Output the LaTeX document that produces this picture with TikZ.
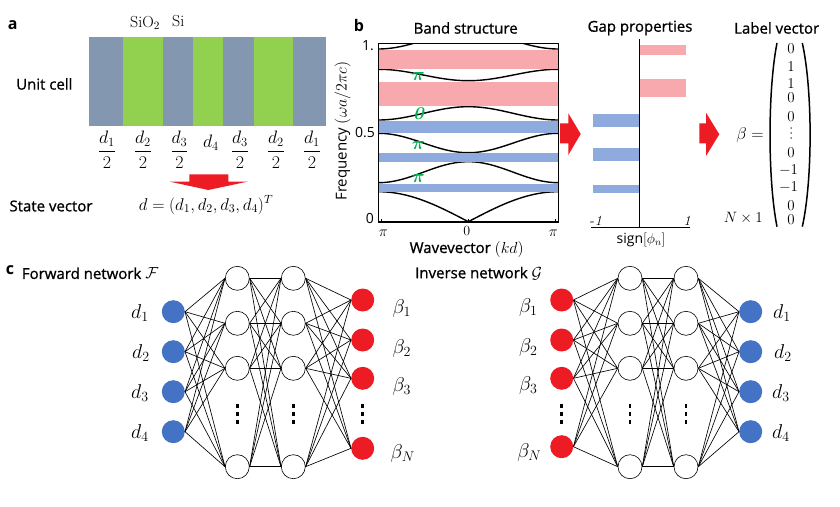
\RequirePackage{fix-cm}
\documentclass[tikz,border=0pt]{standalone}
\usepackage{amsmath,amssymb}
\usepackage[no-math]{fontspec}
\setsansfont{Open Sans}
\newfontfamily\semib{Open Sans}[FakeBold=1]
\definecolor{cellblue}{HTML}{8497B0}
\definecolor{cellgreen}{HTML}{92D050}
\definecolor{gappink}{HTML}{F7A9AD}
\definecolor{gapblue}{HTML}{8FAADC}
\definecolor{arrred}{HTML}{ED1C24}
\definecolor{nodeblue}{HTML}{4472C4}
\definecolor{nodered}{HTML}{ED1C24}
\definecolor{topgreen}{HTML}{00B050}
\tikzset{
  title/.style={font=\semib\fontsize{15}{18}\selectfont, inner sep=0},
  panel/.style={font=\sffamily\bfseries\fontsize{16}{19}\selectfont, inner sep=0},
  tick/.style={font=\sffamily\fontsize{14}{17}\selectfont, inner sep=0},
  mth/.style={font=\fontsize{18}{21}\selectfont, inner sep=0},
  vec/.style={font=\fontsize{15}{18}\selectfont, inner sep=0},
  nlab/.style={font=\fontsize{20}{24}\selectfont, inner sep=0, anchor=base},
  glab/.style={font=\fontsize{18}{21}\selectfont, text=topgreen, inner sep=0},
  inb/.style={circle, fill=nodeblue, minimum size=23pt, inner sep=0},
  inr/.style={circle, fill=nodered, minimum size=23pt, inner sep=0},
  hid/.style={circle, draw=black, line width=0.6pt, fill=white, minimum size=24pt, inner sep=0},
  edge/.style={line width=0.65pt},
  hedge/.style={line width=1.3pt},
  bigarrow/.style={fill=arrred},
}
\begin{document}
\begin{tikzpicture}[x=1pt,y=-1pt]
\useasboundingbox (0,0) rectangle (840,506);
% ---------------- panel a
\node[panel] (la) at (12.7,25) {a};
\fill[cellblue]  (89,37) rectangle (123,126);
\fill[cellgreen] (123,37) rectangle (163,126);
\fill[cellblue]  (163,37) rectangle (193,126);
\fill[cellgreen] (193,37) rectangle (223,126);
\fill[cellblue]  (223,37) rectangle (254,126);
\fill[cellgreen] (254,37) rectangle (293,126);
\fill[cellblue]  (293,37) rectangle (326,126);
\node[font=\fontsize{16}{19}\selectfont, inner sep=0] (sio) at (145,22.7) {SiO$_2$};
\node[font=\fontsize{16}{19}\selectfont, inner sep=0] (si) at (178.3,21.5) {Si};
\node[title, anchor=west] (uc) at (16,84) {Unit cell};
\node[mth] (f1) at (107,150) {$\dfrac{d_1}{2}$};
\node[mth] (f2) at (143,150) {$\dfrac{d_2}{2}$};
\node[mth] (f3) at (179.5,150) {$\dfrac{d_3}{2}$};
\node[mth] (f4) at (211,143) {$d_4$};
\node[mth] (f5) at (240,150) {$\dfrac{d_3}{2}$};
\node[mth] (f6) at (276,150) {$\dfrac{d_2}{2}$};
\node[mth] (f7) at (312,150) {$\dfrac{d_1}{2}$};
\fill[bigarrow] (189.3,174.3) -- (228.3,174.3) -- (228.3,181.7) -- (247.3,181.7)
  -- (208.3,190) -- (170,181.7) -- (189.3,181.7) -- cycle;
\node[title, anchor=west] (sv) at (9.3,206) {State vector};
\node[font=\fontsize{17}{20}\selectfont, inner sep=0] (dv) at (206,205) {$d=(d_1,d_2,d_3,d_4)^T$};
% ---------------- panel b: band structure
\node[panel] (lb) at (359,25) {b};
\node[title] (bs) at (465.7,28) {Band structure};
\begin{scope}
\clip (378.3,43.3) rectangle (558.3,221.7);
\draw[line width=1.4pt] plot[domain=-1:1, samples=81] ({468.3+90*\x},{221.7-30*sin(90*abs(\x))});
\draw[line width=1.4pt] plot[domain=-1:1, samples=81] ({468.3+90*\x},{182.7-21*(1+cos(180*\x))/2});
\draw[line width=1.4pt] plot[domain=-1:1, samples=81] ({468.3+90*\x},{133.3+19.4*(1+cos(180*\x))/2});
\draw[line width=1.4pt] plot[domain=-1:1, samples=81] ({468.3+90*\x},{120-13.3*(1+cos(180*\x))/2});
\draw[line width=1.4pt] plot[domain=-1:1, samples=81] ({468.3+90*\x},{69.3+11.4*(1+cos(180*\x))/2});
\draw[line width=1.4pt] plot[domain=-1:1, samples=81] ({468.3+90*\x},{49-17*(1+cos(180*\x))/2});
\end{scope}
\fill[gappink] (379.3,50) rectangle (558.3,69);
\fill[gappink] (379.3,82) rectangle (558.3,106);
\fill[gapblue] (379.3,121) rectangle (558.3,133.3);
\fill[gapblue] (379.3,153.3) rectangle (558.3,161.7);
\fill[gapblue] (379.3,183.5) rectangle (558.3,192);
\draw[line width=1.6pt] (378.3,43.3) rectangle (558.3,221.7);
\draw[line width=1pt] (468.3,221.7) -- (468.3,218.5);
\draw[line width=1pt] (381.5,221.7) -- (381.5,218.5);
\draw[line width=1pt] (555,221.7) -- (555,218.5);
\node[glab] (g1) at (418.3,76) {$\boldsymbol{\pi}$};
\node[glab] (g2) at (419.5,114) {$\boldsymbol{\mathit{0}}$};
\node[glab] (g3) at (418.3,145) {$\boldsymbol{\pi}$};
\node[glab] (g4) at (418.3,178) {$\boldsymbol{\pi}$};
\node[tick, anchor=east] (y1) at (374,46) {1.};
\node[tick, anchor=east] (y2) at (375,132.7) {0.5};
\node[tick, anchor=east] (y3) at (374,218.5) {0};
\node[font=\fontsize{15}{18}\selectfont, inner sep=0] (x1) at (383.3,233.5) {$\pi$};
\node[font=\fontsize{14}{17}\selectfont, inner sep=0] (x2) at (466.7,230.5) {$0$};
\node[font=\fontsize{15}{18}\selectfont, inner sep=0] (x3) at (553.3,233.5) {$\pi$};
\node[font=\semib\fontsize{15}{18}\selectfont, inner sep=0] (wv) at (466.7,249) {Wavevector \normalfont\fontsize{16}{18}\selectfont$(kd)$};
\node[font=\sffamily\fontsize{15}{18}\selectfont, inner sep=0, rotate=90] (fq) at (342.7,131) {Frequency \fontsize{16}{18}\selectfont$(\omega a/2\pi c)$};
\fill[bigarrow] (560,123.3) -- (568.3,123.3) -- (568.3,113.3) -- (580.7,134) -- (568.3,155) -- (568.3,143.3) -- (560,143.3) -- cycle;
% ---------------- gap properties
\node[title] (gp) at (640,28) {Gap properties};
\fill[gappink] (640,45) rectangle (686,55);
\fill[gappink] (640,79.3) rectangle (686,97);
\fill[gapblue] (593,114) rectangle (640,127);
\fill[gapblue] (593,148) rectangle (640,160.7);
\fill[gapblue] (593,185) rectangle (640,193);
\draw[line width=1.4pt] (639.7,39.3) -- (639.7,227);
\draw[line width=1pt] (591,227) -- (690,227);
\node[font=\fontsize{14}{16}\selectfont, inner sep=0, anchor=base] (m1) at (596,225) {-\textit{1}};
\node[font=\fontsize{14}{16}\selectfont, inner sep=0, anchor=base] (p1) at (687,225) {\textit{1}};
\node[font=\sffamily\fontsize{14}{17}\selectfont, inner sep=0] (sg) at (641,240) {sign$[\phi_n]$};
\fill[bigarrow] (699.3,123.3) -- (706,123.3) -- (706,112.7) -- (719.3,134.3) -- (706,156) -- (706,143.3) -- (699.3,143.3) -- cycle;
% ---------------- label vector
\node[title] (lv) at (776.7,28) {Label vector};
\draw[line width=1.5pt] (777,43) .. controls (767.7,90) and (767.7,180) .. (777,226.7);
\draw[line width=1.5pt] (802.3,43) .. controls (812.7,90) and (812.7,180) .. (802.3,226.7);
\foreach \v/\yy [count=\i] in {0/48.3, 1/66.7, 1/84, 0/97.8, 0/116.7, 0/152.7, 0/206, 0/219.5}
  \node[vec] (e\i) at (791,\yy) {$\v$};
\foreach \yy in {128,133,138} \fill (791,\yy) circle (0.75);
\node[vec] (em1) at (788.5,170) {$-1$};
\node[vec] (em2) at (788.5,187.3) {$-1$};
\node[font=\fontsize{17}{20}\selectfont, inner sep=0] (beq) at (750,135) {$\beta=$};
\node[font=\fontsize{15}{18}\selectfont, inner sep=0] (nx1) at (743.3,218.3) {$N\times 1$};
% ---------------- panel c
\node[panel] (lc) at (10,270) {c};
\node[title, anchor=west] (fw) at (21.7,273.3) {Forward network \normalfont\fontsize{16}{19}\selectfont$\mathcal{F}$};
\node[title, anchor=west] (iv) at (415,273.3) {Inverse network \normalfont\fontsize{16}{19}\selectfont$\mathcal{G}$};
% forward network nodes
\foreach \y [count=\i] in {311.7,351.7,391.7,431.7} \node[inb] (Li\i) at (173.3,\y) {};
\foreach \y [count=\i] in {278.3,323.3,368.3,466.7} {
  \node[hid] (La\i) at (237.3,\y) {};
  \node[hid] (Lb\i) at (293.3,\y) {};
}
\foreach \y [count=\i] in {300,340,378.3,448.3} \node[inr] (Lo\i) at (362.7,\y) {};
\foreach \i in {1,...,4} \foreach \j in {1,...,4} {
  \draw[edge] (Li\i.east) -- (La\j.west);
  \draw[edge] (Lb\i.east) -- (Lo\j.west);
}
\foreach \i in {1,...,4} \foreach \j in {1,...,4} {
  \ifnum\i=\j \draw[hedge] (La\i.east) -- (Lb\j.west);
  \else \draw[edge] (La\i.east) -- (Lb\j.west); \fi
}
% inverse network nodes
\foreach \y [count=\i] in {300,340,378.3,446.7} \node[inr] (Ri\i) at (561.7,\y) {};
\foreach \y [count=\i] in {278.3,323.3,368.3,466.7} {
  \node[hid] (Ra\i) at (630,\y) {};
  \node[hid] (Rb\i) at (686,\y) {};
}
\foreach \y [count=\i] in {311.7,351.7,391.7,431.7} \node[inb] (Ro\i) at (750.7,\y) {};
\foreach \i in {1,...,4} \foreach \j in {1,...,4} {
  \draw[edge] (Ri\i.east) -- (Ra\j.west);
  \draw[edge] (Rb\i.east) -- (Ro\j.west);
}
\foreach \i in {1,...,4} \foreach \j in {1,...,4} {
  \ifnum\i=\j \draw[hedge] (Ra\i.east) -- (Rb\j.west);
  \else \draw[edge] (Ra\i.east) -- (Rb\j.west); \fi
}
% vertical dots
\foreach \x in {237.3,293.3,362.7,561.7,630,686}
  \foreach \yy in {406,414,422} \fill (\x-1.4,\yy-1.6) rectangle (\x+1.4,\yy+1.6);
% labels
\node[nlab] (dl1) at (140,318.7) {$d_1$};
\node[nlab] (dl2) at (141,358.7) {$d_2$};
\node[nlab] (dl3) at (140,398.7) {$d_3$};
\node[nlab] (dl4) at (140,438.7) {$d_4$};
\node[nlab] (bl1) at (401.7,313) {$\beta_1$};
\node[nlab] (bl2) at (401.7,353) {$\beta_2$};
\node[nlab] (bl3) at (401.7,391.3) {$\beta_3$};
\node[nlab] (blN) at (402.7,458) {$\beta_N$};
\node[nlab] (br1) at (528.3,312) {$\beta_1$};
\node[nlab] (br2) at (528.3,352) {$\beta_2$};
\node[nlab] (br3) at (528.3,390.3) {$\beta_3$};
\node[nlab] (brN) at (529.3,457) {$\beta_N$};
\node[nlab] (dr1) at (782,318.7) {$d_1$};
\node[nlab] (dr2) at (783,358.7) {$d_2$};
\node[nlab] (dr3) at (781,398.7) {$d_3$};
\node[nlab] (dr4) at (781,438.7) {$d_4$};
\end{tikzpicture}
\end{document}
